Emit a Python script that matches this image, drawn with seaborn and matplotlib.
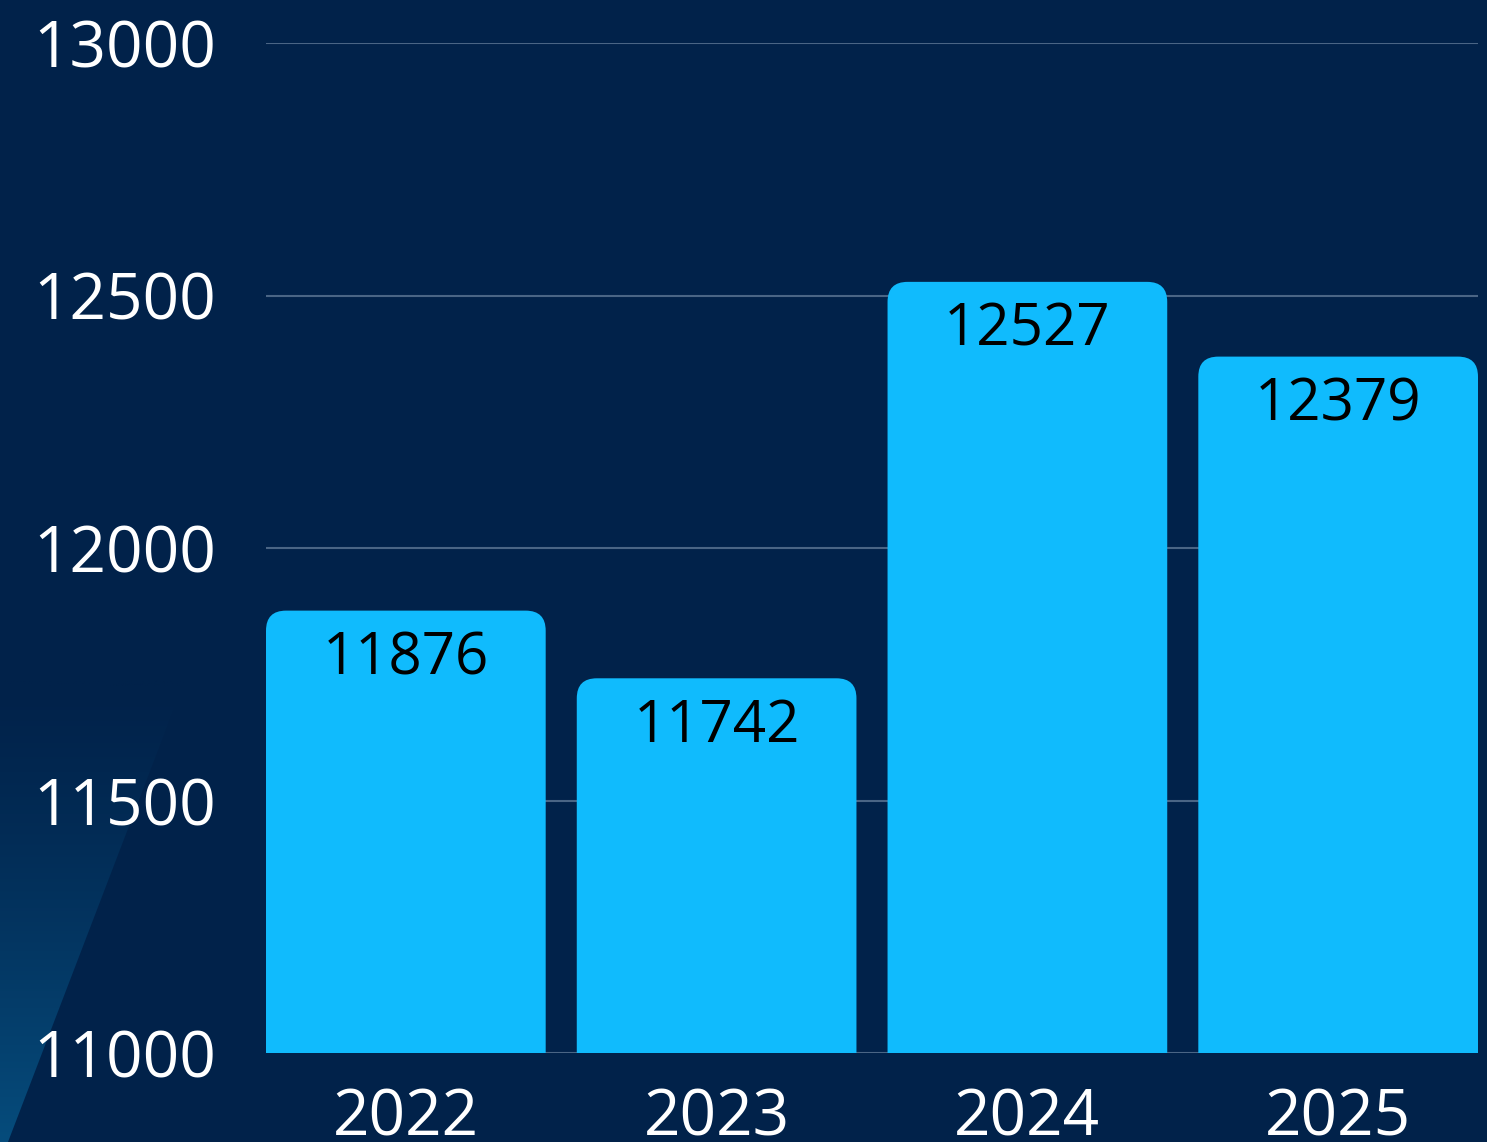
import numpy as np
import pandas as pd
import matplotlib
matplotlib.use("Agg")
import matplotlib.pyplot as plt
import seaborn as sns
from matplotlib.patches import FancyBboxPatch, Polygon

# Data
years = ["2022", "2023", "2024", "2025"]
values = [11876, 11742, 12527, 12379]
y_ticks = [11000, 11500, 12000, 12500, 13000]

bg = "#01224A"
bar_color = "#10BBFD"
grid_color = "#4A6585"

sns.set_theme(style="dark")
plt.rcParams["font.family"] = ["Open Sans", "DejaVu Sans"]

df = pd.DataFrame({"year": years, "value": values})

fig = plt.figure(figsize=(14.87, 11.42), dpi=100)
fig.patch.set_facecolor(bg)

# light gradient wedge in the bottom-left corner
bgax = fig.add_axes([0, 0, 1, 1], zorder=0)
bgax.set_xlim(0, 1487)
bgax.set_ylim(1142, 0)
bgax.axis("off")
grad = np.linspace(0, 1, 256).reshape(-1, 1) ** 1.3
cmap = matplotlib.colors.LinearSegmentedColormap.from_list("g", [bg, "#064C7C"])
im = bgax.imshow(grad, cmap=cmap, extent=[0, 220, 1142, 680], aspect="auto")
wedge = Polygon([[0, 680], [185, 680], [8, 1142], [0, 1142]], closed=True,
                transform=bgax.transData)
im.set_clip_path(wedge)

ax = fig.add_axes([266 / 1487, 89 / 1142, 1212 / 1487, 1010 / 1142], zorder=1)
ax.set_facecolor("none")

sns.barplot(data=df, x="year", y="value", color=bar_color, width=0.9,
            saturation=1, ax=ax, zorder=2)

ax.set_xlim(-0.45, 3.45)
ax.set_ylim(11000, 13000)

# swap plain bars for bars with rounded tops
x_per_px = 3.9 / 1212
y_per_px = 2000 / 1010
for p in list(ax.patches):
    x0, w, h = p.get_x(), p.get_width(), p.get_height()
    p.set_visible(False)
    rb = FancyBboxPatch((x0, 0), w, h,
                        boxstyle=f"round,pad=0,rounding_size={20 * x_per_px}",
                        mutation_aspect=y_per_px / x_per_px,
                        facecolor=bar_color, edgecolor="none", zorder=2)
    ax.add_patch(rb)
    ax.annotate(f"{int(h)}", (x0 + w / 2, h), xytext=(0, -14),
                textcoords="offset points", ha="center", va="top",
                fontsize=42, color="black", zorder=3)

ax.set_yticks(y_ticks)
ax.set_yticklabels([str(t) for t in y_ticks])
ax.grid(axis="y", color=grid_color, linewidth=1.5, zorder=0)
ax.grid(axis="x", visible=False)
ax.set_axisbelow(True)
for s in ax.spines.values():
    s.set_visible(False)
ax.tick_params(axis="y", length=0, pad=36, labelsize=46, labelcolor="white")
ax.tick_params(axis="x", length=0, pad=24, labelsize=46, labelcolor="white")
ax.set_xlabel("")
ax.set_ylabel("")

fig.savefig("out.png", dpi=100, facecolor=bg)
